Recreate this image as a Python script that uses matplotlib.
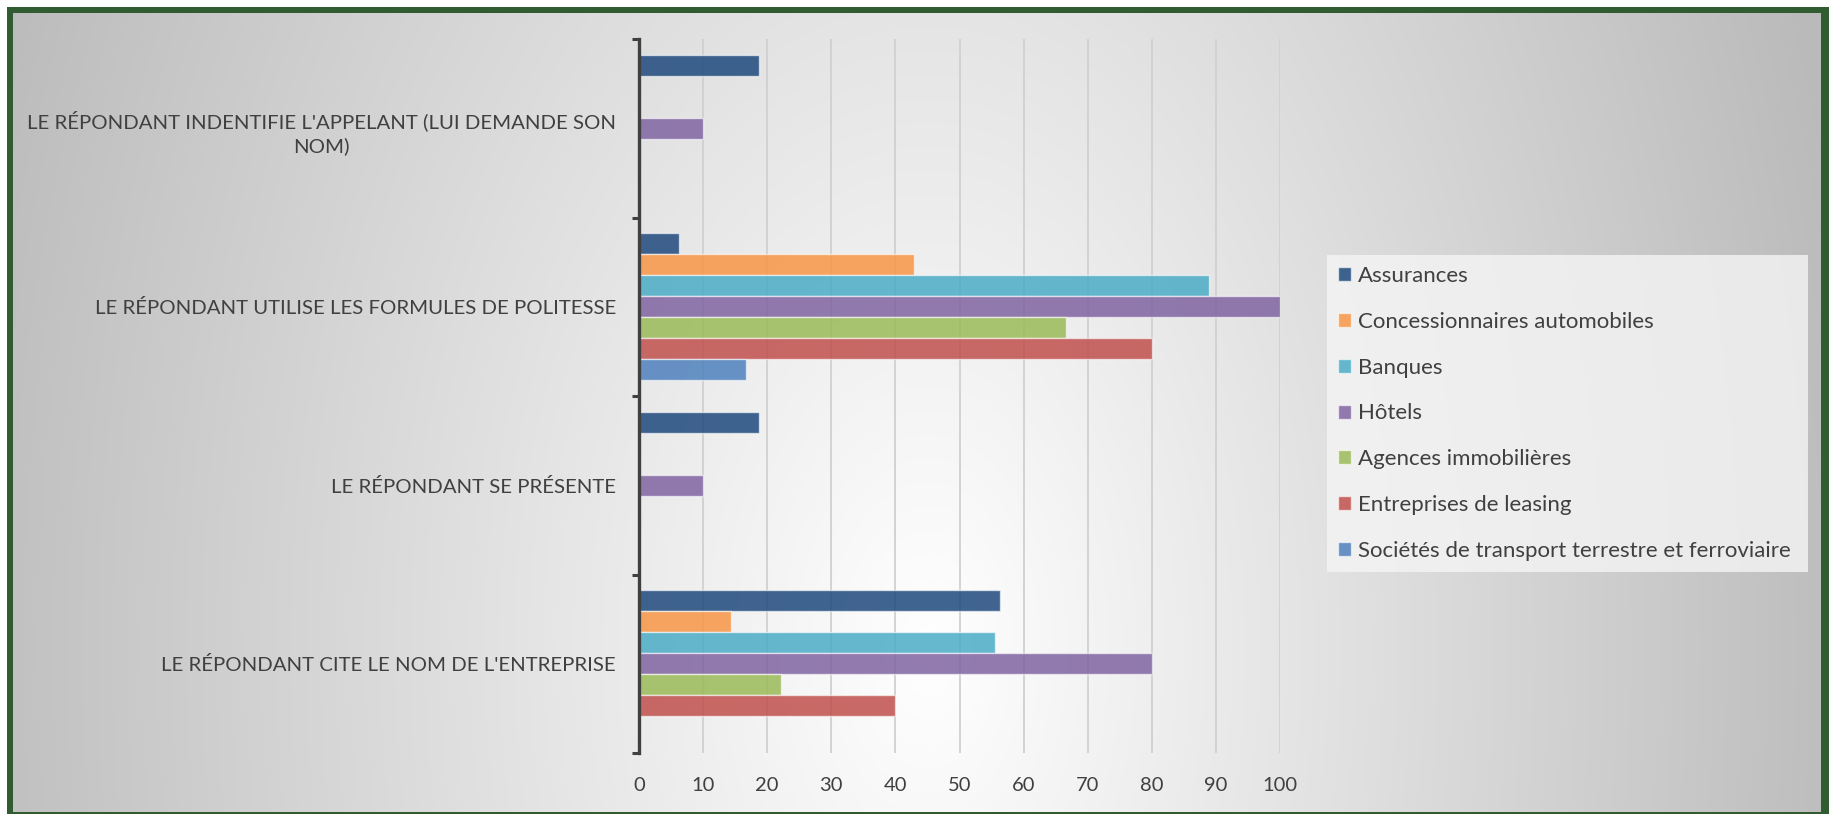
import numpy as np
import matplotlib
matplotlib.use("Agg")
import matplotlib.pyplot as plt
from matplotlib.colors import to_rgba

plt.rcParams['font.family'] = ['Lato', 'DejaVu Sans']

categories = [
    "LE RÉPONDANT CITE LE NOM DE L'ENTREPRISE",
    "LE RÉPONDANT SE PRÉSENTE",
    "LE RÉPONDANT UTILISE LES FORMULES DE POLITESSE",
    "LE RÉPONDANT INDENTIFIE L'APPELANT (LUI DEMANDE SON\nNOM)",
]

series_names = [
    "Assurances",
    "Concessionnaires automobiles",
    "Banques",
    "Hôtels",
    "Agences immobilières",
    "Entreprises de leasing",
    "Sociétés de transport terrestre et ferroviaire",
]

assurances = [56.25, 18.75, 6.25, 18.75]
concessionnaires = [14.29, 0, 42.86, 0]
banques = [55.56, 0, 88.89, 0]
hotels = [80, 10, 100, 10]
agences = [22.22, 0, 66.67, 0]
leasing = [40, 0, 80, 0]
societes = [0, 0, 16.67, 0]

series_values = [assurances, concessionnaires, banques, hotels, agences, leasing, societes]
colors = ["#1F497D", "#F79646", "#4BACC6", "#8064A2", "#9BBB59", "#C0504D", "#4F81BD"]

W, H = 1829, 814
fig = plt.figure(figsize=(W / 100, H / 100), dpi=100)
fig.patch.set_facecolor("white")

# background: green frame + grey/white gradient, drawn in pixel coordinates
bg = fig.add_axes([0, 0, 1, 1], zorder=-10)
bg.add_patch(plt.Rectangle((7, 7), W, H, color="#315B30", lw=0, zorder=1))
xx, yy = np.meshgrid(np.linspace(13, 1821, 600), np.linspace(13, 812, 300))
cx, cy = 930, 650
dx = np.where(xx < cx, (cx - xx) / 930, (xx - cx) / 860)
dy = (yy - cy) / 1500
d = np.clip(np.sqrt(dx ** 2 + dy ** 2), 0, 1.1)
shade = 1 - 0.245 * d
img = np.dstack([shade, shade, shade])
bg.imshow(img, extent=[13, 1821, 812, 13], aspect="auto", interpolation="bilinear", zorder=2)
bg.set_xlim(0, W)
bg.set_ylim(H, 0)
bg.axis("off")

ax = fig.add_axes([639 / W, 61 / H, 641 / W, 714 / H])
ax.set_facecolor("none")

n = len(series_values)
h = 0.118
y = np.arange(len(categories))
for i, (name, vals, col) in enumerate(zip(series_names, series_values, colors)):
    offset = (n - 1) / 2 - i
    ax.barh(y + offset * h, vals, height=h, color=to_rgba(col, 0.85),
            edgecolor=(1, 1, 1, 0.6), linewidth=1.0, label=name, zorder=2)

ax.set_xlim(0, 100)
ax.set_ylim(-0.5, 3.5)
ax.set_xticks(np.arange(0, 101, 10))
ax.grid(axis="x", color="#D0D0D0", linewidth=1.3, zorder=0)
ax.set_axisbelow(True)

ax.set_yticks(y)
ax.set_yticklabels(categories, fontsize=14.7, color="#404040", multialignment="center")
for lab in ax.get_yticklabels():
    lab.set_linespacing(1.4)
ax.set_yticks(np.arange(-0.5, 4, 1), minor=True)
ax.tick_params(axis="y", which="major", length=0, pad=16.5)
ax.tick_params(axis="y", which="minor", length=5, width=2.2, color="#404040", direction="out")
ax.tick_params(axis="x", length=0, pad=17, labelsize=14.5, labelcolor="#404040")

for s in ["top", "right", "bottom"]:
    ax.spines[s].set_visible(False)
ax.spines["left"].set_color("#404040")
ax.spines["left"].set_linewidth(2.4)

leg = ax.legend(loc="upper left", bbox_to_anchor=(1327 / W, 1 - 571 / H, 481 / W, 316 / H),
                bbox_transform=fig.transFigure, mode="expand", fontsize=16,
                frameon=True, fancybox=False, borderaxespad=0,
                handlelength=0.6, handleheight=0.6, handletextpad=0.3,
                labelspacing=1.16, borderpad=0.5)
leg.get_frame().set_facecolor((0.96, 0.96, 0.96, 0.6))
leg.get_frame().set_edgecolor("none")
for t in leg.get_texts():
    t.set_color("#404040")

fig.savefig("out.png", dpi=100)
